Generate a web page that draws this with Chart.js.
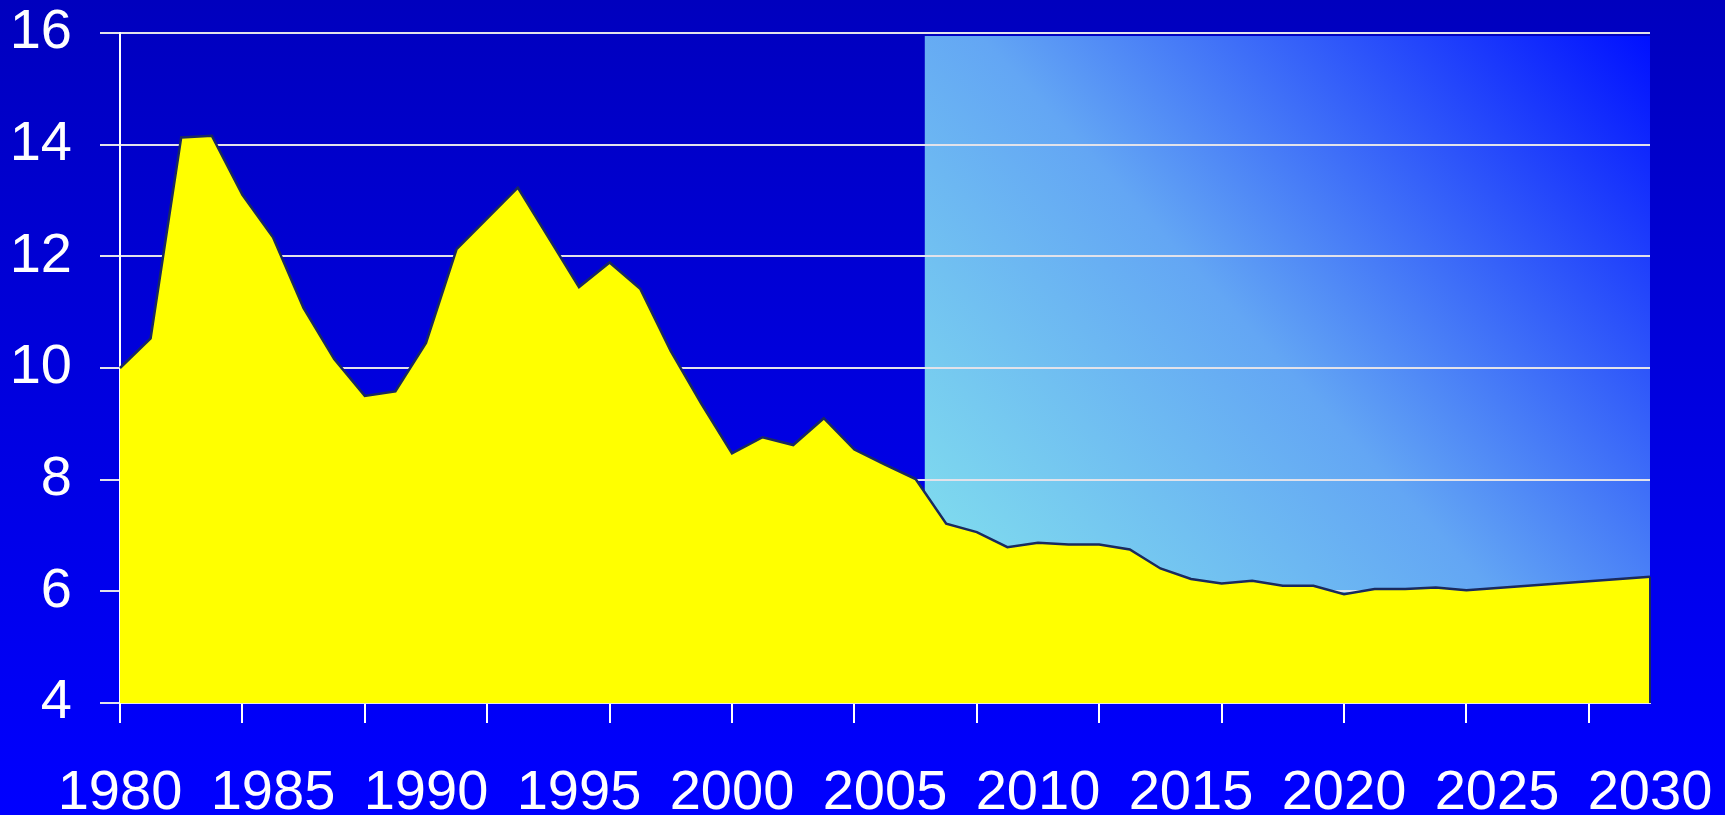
<!DOCTYPE html>
<html>
<head>
<meta charset="utf-8">
<script src="https://cdn.jsdelivr.net/npm/chart.js@4.4.1/dist/chart.umd.min.js"></script>
<style>
  html, body { margin: 0; padding: 0; }
  body {
    width: 1725px; height: 815px; overflow: hidden;
    background: linear-gradient(to bottom, #0000be 0%, #0000e0 50%, #0000ff 100%);
  }
  canvas { display: block; }
</style>
</head>
<body>
<canvas id="chart" width="1725" height="815"></canvas>
<script>
// years 1980 .. 2030
var years = [];
for (var yr = 1980; yr <= 2030; yr++) years.push(String(yr));

var values = [
    10.00, 10.53, 14.13, 14.16, 13.10, 12.34, 11.07, 10.16, 9.50, 9.58,   // 1980-1989
    10.45, 12.13, 12.68, 13.23, 12.34, 11.45, 11.89, 11.42, 10.30, 9.36,  // 1990-1999
    8.47, 8.76, 8.62, 9.10, 8.54, 8.27, 8.01, 7.21, 7.06, 6.79,           // 2000-2009
    6.87, 6.84, 6.84, 6.75, 6.41, 6.22, 6.14, 6.19, 6.10, 6.10,           // 2010-2019
    5.95, 6.04, 6.04, 6.07, 6.02, 6.06, 6.10, 6.14, 6.18, 6.22,           // 2020-2029
    6.26                                                                  // 2030
];

var yTicks = [4, 6, 8, 10, 12, 14, 16];
var forecastFrom = 2006.3;   // shaded projection box starts here

var FONT = "'Liberation Sans', Arial, sans-serif";

// shaded forecast box, drawn under the grid
var forecastBox = {
    id: 'forecastBox',
    beforeDraw: function(chart) {
        var ctx = chart.ctx;
        var xs = chart.scales.x, ys = chart.scales.y;
        var step = xs.getPixelForValue(1) - xs.getPixelForValue(0);
        var left = xs.getPixelForValue(0) + (forecastFrom - 1980) * step;
        var right = chart.chartArea.right;
        var top = ys.getPixelForValue(16) + 3;
        var bottom = chart.chartArea.bottom;
        var g = ctx.createLinearGradient(left, bottom, right, top);
        g.addColorStop(0, '#88ecec');
        g.addColorStop(0.5, '#63a6f4');
        g.addColorStop(1, '#0010ff');
        ctx.save();
        ctx.fillStyle = g;
        ctx.fillRect(left, top, right - left, bottom - top);
        ctx.restore();
    }
};

// closing edge of the area at the last year
var rightEdge = {
    id: 'rightEdge',
    afterDatasetsDraw: function(chart) {
        var ctx = chart.ctx;
        var xs = chart.scales.x, ys = chart.scales.y;
        var last = values.length - 1;
        var x = xs.getPixelForValue(last);
        ctx.save();
        ctx.strokeStyle = '#1a2a5e';
        ctx.lineWidth = 2;
        ctx.beginPath();
        ctx.moveTo(x, ys.getPixelForValue(values[last]));
        ctx.lineTo(x, ys.getPixelForValue(4));
        ctx.stroke();
        ctx.restore();
    }
};

var ctx = document.getElementById('chart').getContext('2d');
var chart = new Chart(ctx, {
    type: 'line',
    data: {
        labels: years,
        datasets: [{
            data: values,
            fill: 'start',
            backgroundColor: '#ffff00',
            borderColor: '#1a2a5e',
            borderWidth: 2.5,
            pointRadius: 0,
            tension: 0
        }]
    },
    plugins: [forecastBox, rightEdge],
    options: {
        responsive: false,
        animation: false,
        devicePixelRatio: 1,
        layout: { padding: { top: 33, right: 75, left: 0, bottom: 0 } },
        plugins: {
            legend: { display: false },
            tooltip: { enabled: false }
        },
        scales: {
            x: {
                offset: false,
                afterFit: function(s) {
                    s.height = 112;
                    s.paddingLeft = 0; s.paddingRight = 0;
                },
                grid: {
                    drawOnChartArea: false,
                    drawTicks: true,
                    tickLength: 20,
                    lineWidth: 2,
                    tickColor: function(c) { return c.index % 4 === 0 ? '#ffffff' : 'rgba(0,0,0,0)'; }
                },
                border: { display: true, color: '#e6e6ee', width: 2 },
                ticks: {
                    autoSkip: false,
                    maxRotation: 0,
                    minRotation: 0,
                    padding: 37,
                    z: 1,
                    color: '#ffffff',
                    font: { family: FONT, size: 56 },
                    callback: function(v, i) {
                        var y = years[i];
                        return (Number(y) % 5 === 0) ? y : '';
                    }
                }
            },
            y: {
                min: 4,
                max: 16,
                afterFit: function(s) {
                    s.width = 120;
                    s.paddingTop = 0; s.paddingBottom = 0;
                },
                afterBuildTicks: function(s) {
                    s.ticks = yTicks.map(function(v) { return { value: v }; });
                },
                grid: {
                    color: '#e2e2ea',
                    lineWidth: 2,
                    tickLength: 20
                },
                border: { display: true, color: '#ffffff', width: 2 },
                ticks: {
                    padding: 28,
                    z: 1,
                    color: '#ffffff',
                    font: { family: FONT, size: 56 }
                }
            }
        }
    }
});
</script>
</body>
</html>
